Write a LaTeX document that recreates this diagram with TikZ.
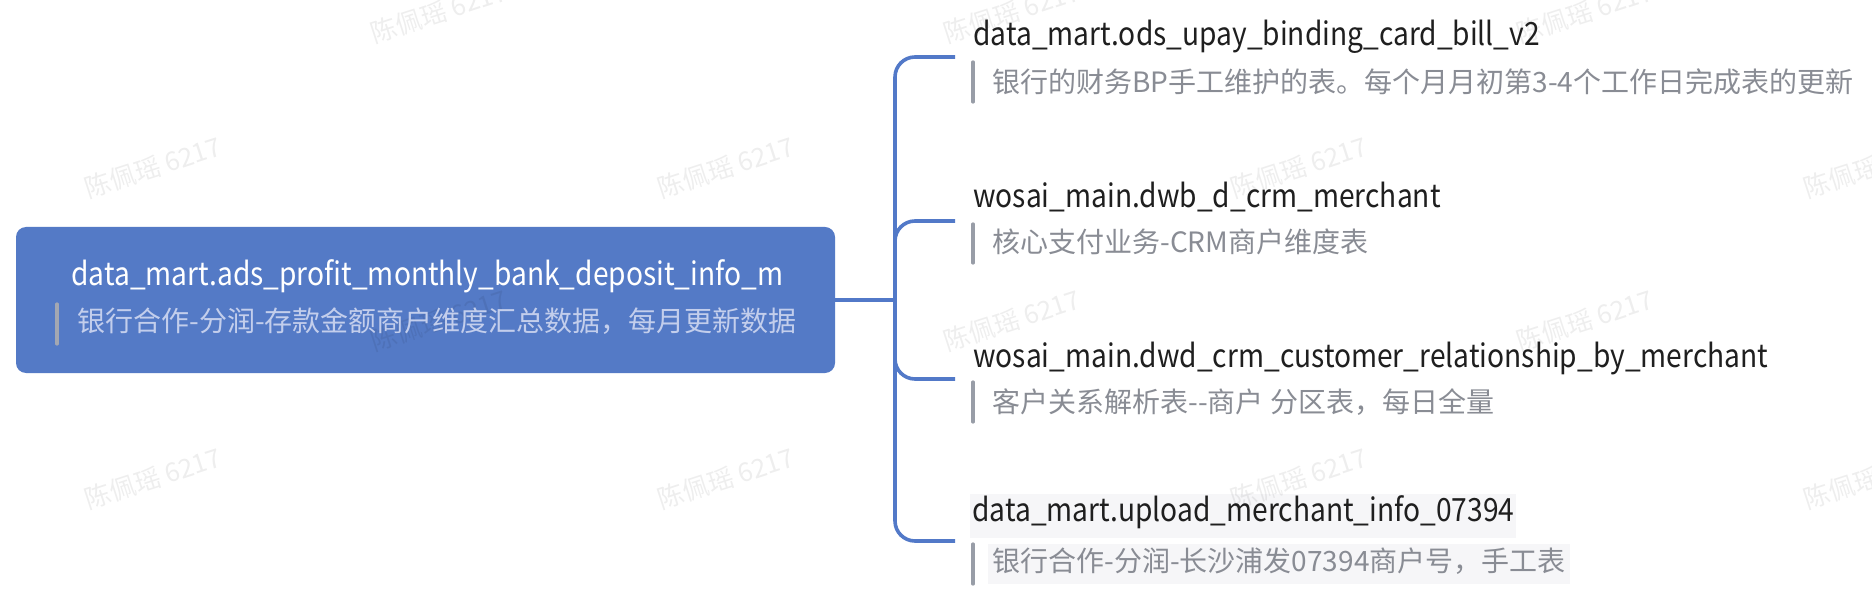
\documentclass[tikz,border=0pt]{standalone}
\usepackage{fontspec}
\setmainfont{Noto Sans CJK SC}
\newfontfamily\titlefam[FakeStretch=0.88]{Noto Sans CJK SC}
\definecolor{rootfill}{HTML}{547AC6}
\definecolor{conncol}{HTML}{5279C8}
\definecolor{titlecol}{HTML}{1F1F1F}
\definecolor{subcol}{HTML}{898C94}
\definecolor{barcol}{HTML}{989DA7}
\definecolor{rootsubcol}{HTML}{C3CEEC}
\definecolor{rootbarcol}{HTML}{A3A7B2}
\definecolor{hlbg}{HTML}{F6F6F8}
\newcommand{\titlefont}{\titlefam\fontsize{16pt}{19pt}\selectfont}
\newcommand{\subfont}{\fontsize{14pt}{17pt}\selectfont}
\newcommand{\wmfont}{\fontsize{13pt}{15pt}\selectfont}
\begin{document}
\begin{tikzpicture}[x=0.5pt,y=-0.5pt,
  rootbox/.style={rectangle, rounded corners=5pt, fill=rootfill, draw=none,
    minimum width=409.5pt, minimum height=73pt, inner sep=0pt},
  titletext/.style={anchor=west, font=\titlefont, text=titlecol, inner xsep=0.5pt, inner ysep=0pt,
    text height=0.75em, text depth=0.25em},
  subtext/.style={anchor=west, font=\subfont, text=subcol, inner xsep=0.5pt, inner ysep=0pt,
    text height=0.85em, text depth=0.13em},
  conn/.style={draw=conncol, line width=1.8pt, rounded corners=10pt},
  notebar/.style={draw=barcol, line width=1.6pt, line cap=round},
  wmark/.style={font=\wmfont, text=black, text opacity=0.065, rotate=18, inner sep=0pt}
]
\useasboundingbox (0,0) rectangle (1872,598);
\fill[white] (0,0) rectangle (1872,598);

% root
\node[rootbox] (root) at (425.5,300) {};

% highlighted backgrounds of last branch
\node[titletext, fill=hlbg, inner xsep=1pt, minimum height=22pt] (t4) at (970,516) {data\_mart.upload\_merchant\_info\_07394};
\node[subtext, fill=hlbg, inner xsep=2pt, minimum height=20pt] (s4) at (988,564) {银行合作-分润-长沙浦发07394商户号，手工表};

% watermarks
\foreach \x/\y in {439/12, 1012/12, 1585/12,
                   153/167, 726/167, 1299/167, 1872/167,
                   439/320, 1012/320, 1585/320,
                   153/478, 726/478, 1299/478, 1872/478,
                   439/633, 1012/633, 1585/633}
  \node[wmark] at (\x,\y) {陈佩瑶 6217};

% root texts
\node[titletext, text=white] (rt) at (70,281) {data\_mart.ads\_profit\_monthly\_bank\_deposit\_info\_m};
\node[subtext, text=rootsubcol] (rs) at (76,324) {银行合作-分润-存款金额商户维度汇总数据，每月更新数据};
\draw[draw=rootbarcol, line width=1.6pt, line cap=round] (57,304) -- (57,344);

% branch texts
\node[titletext] (t1) at (972,41) {data\_mart.ods\_upay\_binding\_card\_bill\_v2};
\node[subtext] (s1) at (991,85) {银行的财务BP手工维护的表。每个月月初第3-4个工作日完成表的更新};
\node[titletext] (t2) at (972,203) {wosai\_main.dwb\_d\_crm\_merchant};
\node[subtext] (s2) at (991,245) {核心支付业务-CRM商户维度表};
\node[titletext] (t3) at (972,362) {wosai\_main.dwd\_crm\_customer\_relationship\_by\_merchant};
\node[subtext] (s3) at (991,405) {客户关系解析表-{}-商户 分区表，每日全量};

\draw[notebar] (973,62) -- (973,102);
\draw[notebar] (973,224) -- (973,263);
\draw[notebar] (973,382) -- (973,422);
\draw[notebar] (973,544) -- (973,584);

% connectors
\coordinate (j) at (895,300);
\coordinate (b1) at (955,57);
\coordinate (b2) at (955,221);
\coordinate (b3) at (955,379);
\coordinate (b4) at (955,541);
\draw[conn] (root.east) -- (j);
\draw[conn] (j) |- (b1);
\draw[conn] (j) |- (b2);
\draw[conn] (j) |- (b3);
\draw[conn] (j) |- (b4);
\end{tikzpicture}
\end{document}
